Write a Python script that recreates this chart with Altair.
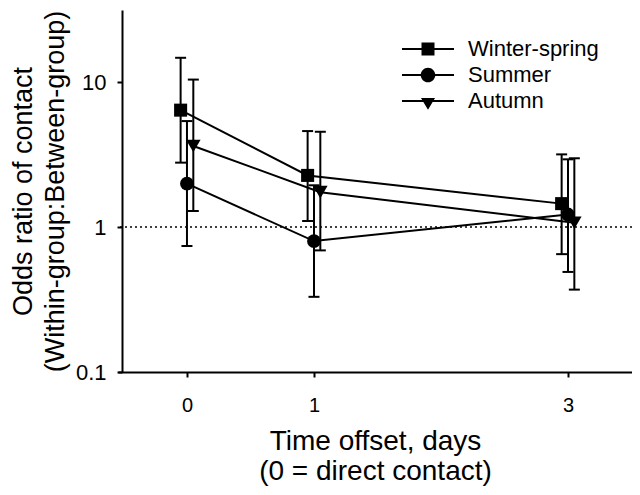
import altair as alt
import pandas as pd

# ---- data ----
series = ["Winter-spring", "Summer", "Autumn"]
days = [0, 1, 3]
odds_winter = [6.4, 2.27, 1.45]
low_winter = [2.78, 1.10, 0.65]
high_winter = [14.7, 4.59, 3.17]
odds_summer = [1.99, 0.80, 1.22]
low_summer = [0.74, 0.33, 0.49]
high_summer = [5.38, 1.94, 2.93]
odds_autumn = [3.62, 1.74, 1.07]
low_autumn = [1.29, 0.69, 0.37]
high_autumn = [10.4, 4.54, 2.98]
x_ticks = [0, 1, 3]
y_ticks = [0.1, 1, 10]
reference_line = [1]

odds = [odds_winter, odds_summer, odds_autumn]
lows = [low_winter, low_summer, low_autumn]
highs = [high_winter, high_summer, high_autumn]

rows = []
for i, s in enumerate(series):
    for j, d in enumerate(days):
        rows.append(dict(series=s, day=d, odds=odds[i][j], low=lows[i][j], high=highs[i][j]))
df = pd.DataFrame(rows)

# small horizontal dodge so the error bars do not overlap (styling)
dodge = {"Winter-spring": -0.05, "Summer": 0.0, "Autumn": 0.05}
df["xpos"] = df["day"] + df["series"].map(dodge)

FONT = "Liberation Sans"

xscale = alt.Scale(domain=[-0.543, 3.504], nice=False, zero=False)
yscale = alt.Scale(type="log", domain=[0.1, 31.4], nice=False)

xaxis = alt.Axis(values=x_ticks, format="d", labelFontSize=20, labelFont=FONT,
                 labelPadding=18, titlePadding=12,
                 title=["Time offset, days", "(0 = direct contact)"])
yaxis = alt.Axis(values=y_ticks, format="~g", labelFontSize=22, labelFont=FONT,
                 labelPadding=11, titlePadding=6, offset=-4,
                 title=["Odds ratio of contact", "(Within-group:Between-group)"])

X = alt.X("xpos:Q", scale=xscale, axis=xaxis)
Y = alt.Y("odds:Q", scale=yscale, axis=yaxis)

base = alt.Chart(df)

ref = alt.Chart(pd.DataFrame({"v": reference_line})).mark_rule(
    color="black", strokeWidth=1.5, strokeDash=[2, 3]
).encode(y=alt.Y("v:Q", scale=yscale, axis=yaxis))

bars = base.mark_rule(color="black", strokeWidth=2).encode(
    x=X, y=alt.Y("low:Q", scale=yscale, axis=yaxis), y2="high:Q")
cap_lo = base.mark_tick(color="black", orient="horizontal", size=11, thickness=2, opacity=1).encode(
    x=X, y=alt.Y("low:Q", scale=yscale, axis=yaxis))
cap_hi = base.mark_tick(color="black", orient="horizontal", size=11, thickness=2, opacity=1).encode(
    x=X, y=alt.Y("high:Q", scale=yscale, axis=yaxis))

lines = base.mark_line(color="black", strokeWidth=2).encode(
    x=X, y=Y, detail="series:N", order="day:Q")

points = base.mark_point(filled=True, color="black", opacity=1).encode(
    x=X, y=Y,
    shape=alt.Shape("series:N", scale=alt.Scale(domain=series, range=["square", "circle", "triangle-down"]), legend=None),
    size=alt.Size("series:N", scale=alt.Scale(domain=series, range=[170, 210, 210]), legend=None),
)

legend_paths = [
    "M-1,-0.04H1V0.04H-1Z M-0.25,-0.25H0.25V0.25H-0.25Z",
    "M-1,-0.04H1V0.04H-1Z M-0.28,0 A0.28,0.28 0 1,1 0.28,0 A0.28,0.28 0 1,1 -0.28,0 Z",
    "M-1,-0.04H1V0.04H-1Z M-0.27,-0.12L0.27,-0.12L0,0.34Z",
]
legend_layer = base.mark_point(filled=True, color="black", opacity=0).encode(
    x=X, y=Y,
    shape=alt.Shape("series:N", scale=alt.Scale(domain=series, range=legend_paths),
                    legend=alt.Legend(title=None, orient="none", legendX=284, legendY=26,
                                      symbolSize=2704, symbolFillColor="black",
                                      symbolStrokeColor="black", symbolStrokeWidth=0,
                                      symbolOpacity=1, labelFontSize=22, labelFont=FONT,
                                      labelColor="black", labelOffset=14, rowPadding=0,
                                      clipHeight=26)),
)

chart = alt.layer(ref, bars, cap_lo, cap_hi, lines, points, legend_layer).resolve_scale(
    shape="independent", size="independent"
).properties(
    width=514, height=362,
    autosize=alt.AutoSizeParams(type="none"),
    padding={"left": 110, "top": 2, "right": 0, "bottom": 115},
).configure_view(stroke=None).configure_axis(
    grid=False, domainColor="black", domainWidth=2, tickColor="black", tickWidth=2,
    tickSize=5, labelFont=FONT, labelColor="black",
    titleFont=FONT, titleFontWeight="normal", titleColor="black",
).configure_axisX(
    titleLineHeight=30, titleFontSize=28,
).configure_axisY(
    titleLineHeight=32, titleFontSize=27,
)

chart.save("out.html", embed_options={"renderer": "svg", "actions": False})
